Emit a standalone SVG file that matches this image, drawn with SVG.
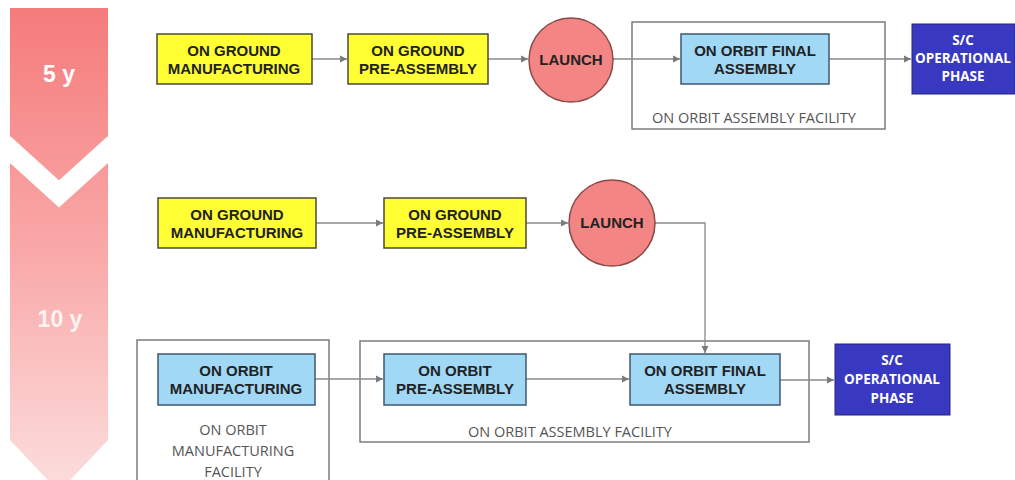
<svg xmlns="http://www.w3.org/2000/svg" width="1015" height="480" viewBox="0 0 1015 480">
<defs>
<linearGradient id="band" x1="0" y1="0" x2="0" y2="1">
<stop offset="0" stop-color="#f57b7b"/>
<stop offset="0.5" stop-color="#f9a8a8"/>
<stop offset="1" stop-color="#fcdede"/>
</linearGradient>
<marker id="arr" markerWidth="8" markerHeight="8" refX="7" refY="4" orient="auto" markerUnits="userSpaceOnUse">
<path d="M0,0.5 L7,4 L0,7.5 Z" fill="#7a7a7a"/>
</marker>
</defs>
<style>
.yel{fill:#ffff33;stroke:#4a4a3a;stroke-width:1.5}
.blu{fill:#a0d8f6;stroke:#3e5870;stroke-width:1.5}
.lau{fill:#f38585;stroke:#8a4a4a;stroke-width:1.5}
.sc{fill:#3838c0;stroke:#24247a;stroke-width:1}
.fac{fill:none;stroke:#7c7c7c;stroke-width:1.5}
.t{font-family:"Liberation Sans",Arial,sans-serif;font-weight:bold;font-size:15px;fill:#222;text-anchor:middle}
.ts{font-family:"Open Sans","Liberation Sans",sans-serif;font-weight:bold;font-size:13.5px;fill:#fff;text-anchor:middle}
.fl{font-family:"Open Sans","Liberation Sans",sans-serif;font-size:14.5px;fill:#555;text-anchor:middle}
.yr{font-family:"Liberation Sans",Arial,sans-serif;font-weight:bold;font-size:23px;text-anchor:middle}
.c{fill:none;stroke:#8a8a8a;stroke-width:1.3;marker-end:url(#arr)}
</style>
<g id="timeline">
<polygon points="10,8 108,8 108,440 59,492 10,440" fill="url(#band)"/>
<polyline points="4,144 59,194 114,144" fill="none" stroke="#fff" stroke-width="20"/>
<text x="59" y="82" class="yr" fill="#fff">5 y</text>
<text x="60" y="327" class="yr" fill="#fff" fill-opacity="0.85">10 y</text>
</g>
<g id="facilities">
<g id="fac1"><rect class="fac" x="632" y="22" width="253" height="107"/><text class="fl" x="754" y="123">ON ORBIT ASSEMBLY FACILITY</text></g>
<g id="fac2"><rect class="fac" x="360" y="341" width="449" height="101"/><text class="fl" x="570" y="437">ON ORBIT ASSEMBLY FACILITY</text></g>
<g id="fac3"><rect class="fac" x="137" y="340" width="192" height="150"/><text class="fl" x="233" y="435">ON ORBIT</text><text class="fl" x="233" y="456">MANUFACTURING</text><text class="fl" x="233" y="477">FACILITY</text></g>
</g>
<g id="connectors">
<line class="c" x1="312" y1="59" x2="347" y2="59"/>
<line class="c" x1="488" y1="59" x2="528" y2="59"/>
<line class="c" x1="613" y1="59" x2="680" y2="59"/>
<line class="c" x1="829" y1="59" x2="911" y2="59"/>
<line class="c" x1="316" y1="223" x2="383" y2="223"/>
<line class="c" x1="526" y1="223" x2="568" y2="223"/>
<polyline class="c" points="655,223 705,223 705,353"/>
<line class="c" x1="315" y1="379" x2="383" y2="379"/>
<line class="c" x1="526" y1="379" x2="629" y2="379"/>
<line class="c" x1="780" y1="380" x2="834" y2="380"/>
</g>
<g id="n1"><rect class="yel" x="157" y="34" width="155" height="50"/><text class="t" x="234" y="56">ON GROUND</text><text class="t" x="234" y="74">MANUFACTURING</text></g>
<g id="n2"><rect class="yel" x="348" y="34" width="140" height="50"/><text class="t" x="418" y="56">ON GROUND</text><text class="t" x="418" y="74">PRE-ASSEMBLY</text></g>
<g id="n3"><circle class="lau" cx="571" cy="60" r="42"/><text class="t" x="571" y="65">LAUNCH</text></g>
<g id="n4"><rect class="blu" x="681" y="34" width="148" height="50"/><text class="t" x="755" y="56">ON ORBIT FINAL</text><text class="t" x="755" y="74">ASSEMBLY</text></g>
<g id="n5"><rect class="sc" x="912" y="24" width="103" height="70"/><text class="ts" x="963" y="45">S/C</text><text class="ts" x="963" y="63">OPERATIONAL</text><text class="ts" x="963" y="81">PHASE</text></g>
<g id="n6"><rect class="yel" x="158" y="198" width="158" height="50"/><text class="t" x="237" y="220">ON GROUND</text><text class="t" x="237" y="238">MANUFACTURING</text></g>
<g id="n7"><rect class="yel" x="384" y="198" width="142" height="50"/><text class="t" x="455" y="220">ON GROUND</text><text class="t" x="455" y="238">PRE-ASSEMBLY</text></g>
<g id="n8"><circle class="lau" cx="612" cy="223" r="43"/><text class="t" x="612" y="228">LAUNCH</text></g>
<g id="n9"><rect class="blu" x="158" y="354" width="157" height="51"/><text class="t" x="236" y="376">ON ORBIT</text><text class="t" x="236" y="394">MANUFACTURING</text></g>
<g id="n10"><rect class="blu" x="384" y="354" width="142" height="51"/><text class="t" x="455" y="376">ON ORBIT</text><text class="t" x="455" y="394">PRE-ASSEMBLY</text></g>
<g id="n11"><rect class="blu" x="630" y="354" width="150" height="51"/><text class="t" x="705" y="376">ON ORBIT FINAL</text><text class="t" x="705" y="394">ASSEMBLY</text></g>
<g id="n12"><rect class="sc" x="835" y="344" width="115" height="71"/><text class="ts" x="892" y="365">S/C</text><text class="ts" x="892" y="384">OPERATIONAL</text><text class="ts" x="892" y="403">PHASE</text></g>
</svg>
